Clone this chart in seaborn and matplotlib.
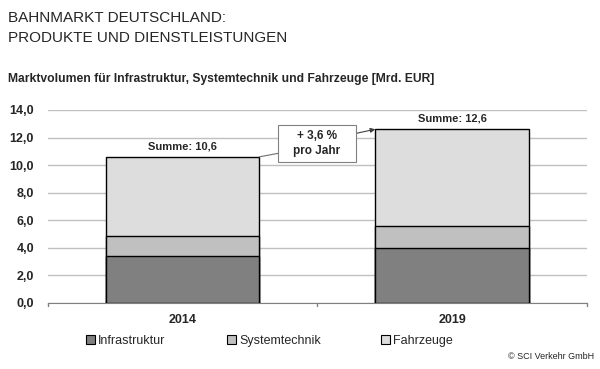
import seaborn as sns
import matplotlib.pyplot as plt
import pandas as pd
from matplotlib.patches import Patch, Rectangle

years = ["2014", "2019"]
infrastruktur = [3.4, 4.0]
systemtechnik = [1.45, 1.6]
fahrzeuge = [5.75, 7.0]
summen = ["10,6", "12,6"]
segments = ["Infrastruktur", "Systemtechnik", "Fahrzeuge"]
colors = ["#808080", "#c0c0c0", "#dddddd"]

sns.set_style("white")
plt.rcParams["font.family"] = ["Liberation Sans", "DejaVu Sans"]

df = pd.DataFrame({"Jahr": years, "Infrastruktur": infrastruktur,
                   "Systemtechnik": systemtechnik, "Fahrzeuge": fahrzeuge})
df["s1"] = df["Infrastruktur"]
df["s2"] = df["s1"] + df["Systemtechnik"]
df["s3"] = df["s2"] + df["Fahrzeuge"]

fig = plt.figure(figsize=(6, 3.69), dpi=100)
ax = fig.add_axes([0.08, 0.179, 0.898, 0.523])

# stacked bars drawn from the top down
for col, c in zip(["s3", "s2", "s1"], colors[::-1]):
    sns.barplot(data=df, x="Jahr", y=col, color=c, width=0.57,
                edgecolor="black", linewidth=1, saturation=1, ax=ax, zorder=3)

ax.set_ylim(0, 14)
ax.set_xlim(-0.5, 1.5)
ax.set_yticks(range(0, 15, 2))
ax.set_yticklabels([f"{v:.1f}".replace(".", ",") for v in range(0, 15, 2)],
                   fontsize=9, fontweight="bold")
ax.set_xticks([0, 1])
ax.set_xticklabels(years, fontsize=9, fontweight="bold")
ax.set_xlabel("")
ax.set_ylabel("")
ax.grid(axis="y", color="#c0c0c0", linewidth=1, zorder=0)
for s in ["top", "right", "left"]:
    ax.spines[s].set_visible(False)
ax.spines["bottom"].set_color("#808080")
ax.tick_params(axis="y", length=0, pad=10)
ax.tick_params(axis="x", length=0, pad=8)
# small tick marks at category boundaries
for xb in [-0.5, 0.5, 1.5]:
    ax.plot([xb, xb], [0, -0.25], color="#808080", lw=1, clip_on=False)

for i, s in enumerate(summen):
    ax.text(i, df["s3"][i] + 0.75, f"Summe: {s}", ha="center", va="center",
            fontsize=8, fontweight="bold")

# growth callout
ax.add_patch(Rectangle((0.353, 10.22), 0.29, 2.68, fc="white", ec="#808080",
                       lw=0.8, zorder=5))
ax.plot([0.285, 0.353], [df["s3"][0], 10.85], color="#707070", lw=0.8, zorder=4)
ax.annotate("", xy=(0.715, df["s3"][1]), xytext=(0.643, 12.3),
            arrowprops=dict(arrowstyle="-|>", color="#404040", lw=0.8,
                            mutation_scale=7, shrinkA=0, shrinkB=0))
ax.text(0.498, 11.56, "+ 3,6 %\npro Jahr", ha="center", va="center",
        fontsize=8.5, fontweight="bold", zorder=6, linespacing=1.3)

fig.text(0.013, 0.95, "BAHNMARKT DEUTSCHLAND:", fontsize=11, va="center")
fig.text(0.013, 0.897, "PRODUKTE UND DIENSTLEISTUNGEN", fontsize=11, va="center")
fig.text(0.013, 0.785, "Marktvolumen für Infrastruktur, Systemtechnik und Fahrzeuge [Mrd. EUR]",
         fontsize=8.7, fontweight="bold", va="center")

handles = [Patch(facecolor=c, edgecolor="black", linewidth=0.8) for c in colors]
xs = [0.143, 0.378, 0.635]
for h, lab, x in zip(handles, segments, xs):
    fig.legend([h], [lab], loc="center left", bbox_to_anchor=(x, 0.076),
               frameon=False, fontsize=9, handlelength=0.7, handleheight=0.7,
               handletextpad=0.3, borderaxespad=0, borderpad=0)
fig.text(0.99, 0.033, "© SCI Verkehr GmbH", fontsize=6.5, ha="right", va="center")

fig.savefig("out.png", dpi=100)
